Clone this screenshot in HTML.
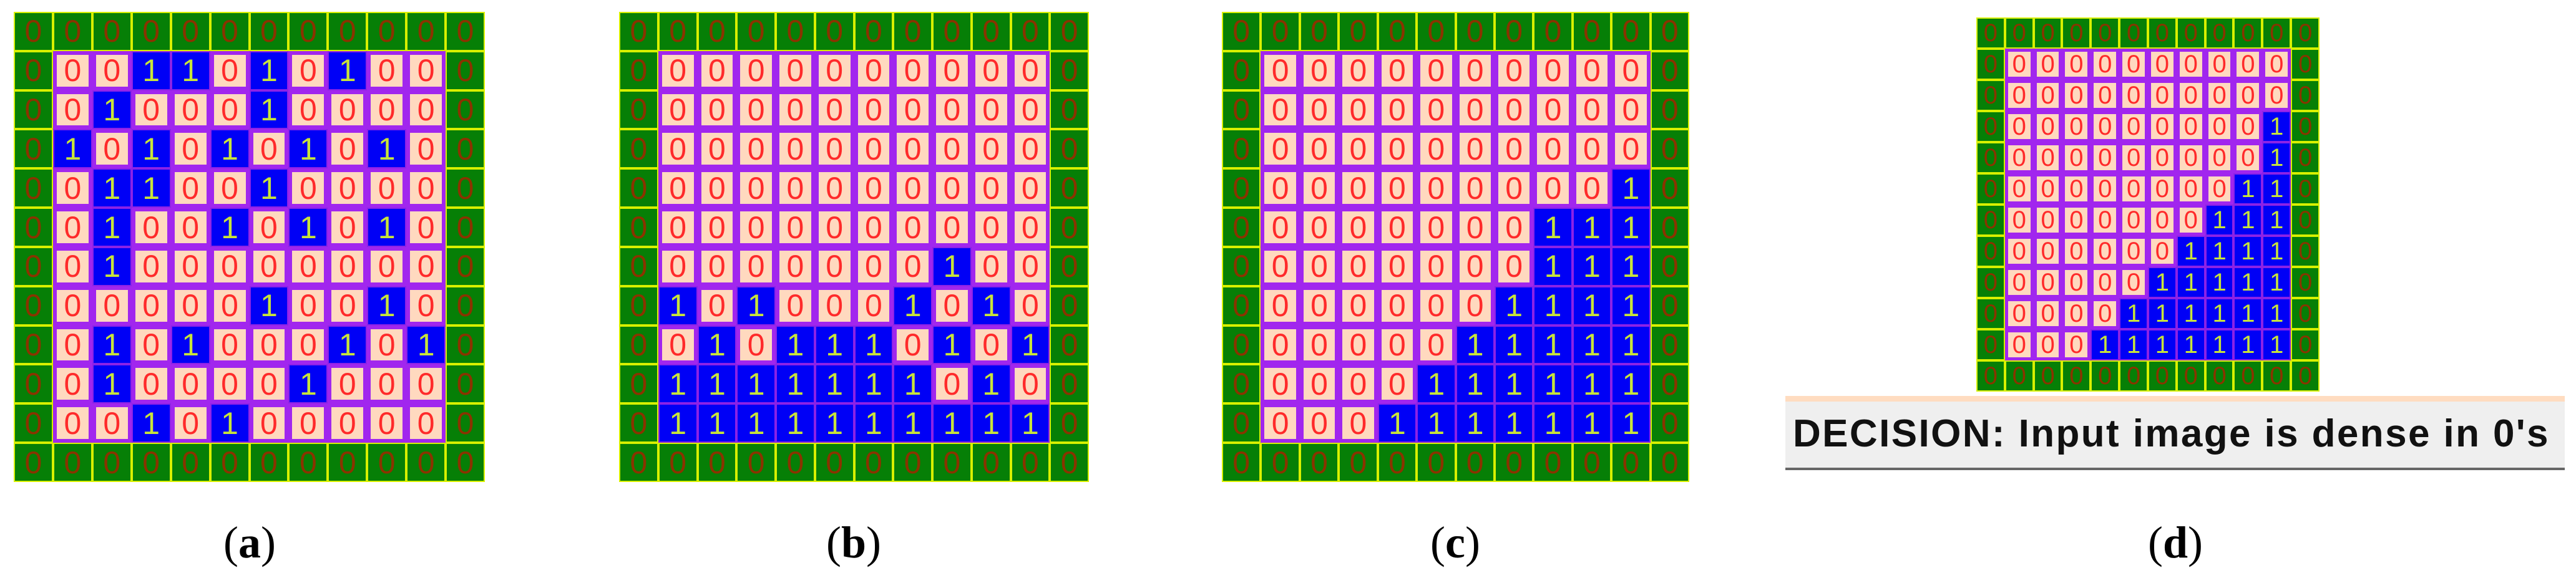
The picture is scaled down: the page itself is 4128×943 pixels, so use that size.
<!DOCTYPE html>
<html><head><meta charset="utf-8">
<style>
html,body{margin:0;padding:0;background:#fff;}
body{width:4128px;height:943px;position:relative;overflow:hidden;}
.p{position:absolute;display:grid;grid-template-columns:repeat(12,1fr);grid-template-rows:repeat(12,1fr);font-family:"Liberation Sans",sans-serif;}
.p u,.p i,.p b{box-sizing:border-box;display:flex;align-items:center;justify-content:center;text-decoration:none;font-style:normal;font-weight:normal;line-height:1;}
.p u{background:#067f06;border:2px solid #d8f000;color:#8a3300;}
.p i{background:#ffd9bf;border:6px solid #a126ee;color:#ff2a2a;}
.p b{background:#0000f6;border:2px solid #8c22e6;color:#c8e43a;}
.big{font-size:50px;}
.sm{font-size:40px;}
.sm i{border-width:5px;}
.lab{position:absolute;top:825px;width:200px;text-align:center;font-family:"Liberation Serif",serif;font-size:72px;line-height:90px;}
.lab b{font-weight:bold;}
.bar{position:absolute;left:2861px;top:635px;width:1249px;height:119px;background:#efefef;border-top:9px solid #ffdcc0;border-bottom:4px solid #666;box-sizing:border-box;font-family:"Liberation Sans","DejaVu Sans",sans-serif;font-weight:bold;font-size:62px;letter-spacing:2.4px;color:#111;line-height:104px;padding-left:12px;white-space:nowrap;}
</style></head><body>

<div class="p big" style="left:22px;top:19px;width:755px;height:754px;">
<u>0</u><u>0</u><u>0</u><u>0</u><u>0</u><u>0</u><u>0</u><u>0</u><u>0</u><u>0</u><u>0</u><u>0</u>
<u>0</u><i>0</i><i>0</i><b>1</b><b>1</b><i>0</i><b>1</b><i>0</i><b>1</b><i>0</i><i>0</i><u>0</u>
<u>0</u><i>0</i><b>1</b><i>0</i><i>0</i><i>0</i><b>1</b><i>0</i><i>0</i><i>0</i><i>0</i><u>0</u>
<u>0</u><b>1</b><i>0</i><b>1</b><i>0</i><b>1</b><i>0</i><b>1</b><i>0</i><b>1</b><i>0</i><u>0</u>
<u>0</u><i>0</i><b>1</b><b>1</b><i>0</i><i>0</i><b>1</b><i>0</i><i>0</i><i>0</i><i>0</i><u>0</u>
<u>0</u><i>0</i><b>1</b><i>0</i><i>0</i><b>1</b><i>0</i><b>1</b><i>0</i><b>1</b><i>0</i><u>0</u>
<u>0</u><i>0</i><b>1</b><i>0</i><i>0</i><i>0</i><i>0</i><i>0</i><i>0</i><i>0</i><i>0</i><u>0</u>
<u>0</u><i>0</i><i>0</i><i>0</i><i>0</i><i>0</i><b>1</b><i>0</i><i>0</i><b>1</b><i>0</i><u>0</u>
<u>0</u><i>0</i><b>1</b><i>0</i><b>1</b><i>0</i><i>0</i><i>0</i><b>1</b><i>0</i><b>1</b><u>0</u>
<u>0</u><i>0</i><b>1</b><i>0</i><i>0</i><i>0</i><i>0</i><b>1</b><i>0</i><i>0</i><i>0</i><u>0</u>
<u>0</u><i>0</i><i>0</i><b>1</b><i>0</i><b>1</b><i>0</i><i>0</i><i>0</i><i>0</i><i>0</i><u>0</u>
<u>0</u><u>0</u><u>0</u><u>0</u><u>0</u><u>0</u><u>0</u><u>0</u><u>0</u><u>0</u><u>0</u><u>0</u>
</div>

<div class="p big" style="left:992px;top:19px;width:753px;height:754px;">
<u>0</u><u>0</u><u>0</u><u>0</u><u>0</u><u>0</u><u>0</u><u>0</u><u>0</u><u>0</u><u>0</u><u>0</u>
<u>0</u><i>0</i><i>0</i><i>0</i><i>0</i><i>0</i><i>0</i><i>0</i><i>0</i><i>0</i><i>0</i><u>0</u>
<u>0</u><i>0</i><i>0</i><i>0</i><i>0</i><i>0</i><i>0</i><i>0</i><i>0</i><i>0</i><i>0</i><u>0</u>
<u>0</u><i>0</i><i>0</i><i>0</i><i>0</i><i>0</i><i>0</i><i>0</i><i>0</i><i>0</i><i>0</i><u>0</u>
<u>0</u><i>0</i><i>0</i><i>0</i><i>0</i><i>0</i><i>0</i><i>0</i><i>0</i><i>0</i><i>0</i><u>0</u>
<u>0</u><i>0</i><i>0</i><i>0</i><i>0</i><i>0</i><i>0</i><i>0</i><i>0</i><i>0</i><i>0</i><u>0</u>
<u>0</u><i>0</i><i>0</i><i>0</i><i>0</i><i>0</i><i>0</i><i>0</i><b>1</b><i>0</i><i>0</i><u>0</u>
<u>0</u><b>1</b><i>0</i><b>1</b><i>0</i><i>0</i><i>0</i><b>1</b><i>0</i><b>1</b><i>0</i><u>0</u>
<u>0</u><i>0</i><b>1</b><i>0</i><b>1</b><b>1</b><b>1</b><i>0</i><b>1</b><i>0</i><b>1</b><u>0</u>
<u>0</u><b>1</b><b>1</b><b>1</b><b>1</b><b>1</b><b>1</b><b>1</b><i>0</i><b>1</b><i>0</i><u>0</u>
<u>0</u><b>1</b><b>1</b><b>1</b><b>1</b><b>1</b><b>1</b><b>1</b><b>1</b><b>1</b><b>1</b><u>0</u>
<u>0</u><u>0</u><u>0</u><u>0</u><u>0</u><u>0</u><u>0</u><u>0</u><u>0</u><u>0</u><u>0</u><u>0</u>
</div>

<div class="p big" style="left:1958px;top:19px;width:749px;height:754px;">
<u>0</u><u>0</u><u>0</u><u>0</u><u>0</u><u>0</u><u>0</u><u>0</u><u>0</u><u>0</u><u>0</u><u>0</u>
<u>0</u><i>0</i><i>0</i><i>0</i><i>0</i><i>0</i><i>0</i><i>0</i><i>0</i><i>0</i><i>0</i><u>0</u>
<u>0</u><i>0</i><i>0</i><i>0</i><i>0</i><i>0</i><i>0</i><i>0</i><i>0</i><i>0</i><i>0</i><u>0</u>
<u>0</u><i>0</i><i>0</i><i>0</i><i>0</i><i>0</i><i>0</i><i>0</i><i>0</i><i>0</i><i>0</i><u>0</u>
<u>0</u><i>0</i><i>0</i><i>0</i><i>0</i><i>0</i><i>0</i><i>0</i><i>0</i><i>0</i><b>1</b><u>0</u>
<u>0</u><i>0</i><i>0</i><i>0</i><i>0</i><i>0</i><i>0</i><i>0</i><b>1</b><b>1</b><b>1</b><u>0</u>
<u>0</u><i>0</i><i>0</i><i>0</i><i>0</i><i>0</i><i>0</i><i>0</i><b>1</b><b>1</b><b>1</b><u>0</u>
<u>0</u><i>0</i><i>0</i><i>0</i><i>0</i><i>0</i><i>0</i><b>1</b><b>1</b><b>1</b><b>1</b><u>0</u>
<u>0</u><i>0</i><i>0</i><i>0</i><i>0</i><i>0</i><b>1</b><b>1</b><b>1</b><b>1</b><b>1</b><u>0</u>
<u>0</u><i>0</i><i>0</i><i>0</i><i>0</i><b>1</b><b>1</b><b>1</b><b>1</b><b>1</b><b>1</b><u>0</u>
<u>0</u><i>0</i><i>0</i><i>0</i><b>1</b><b>1</b><b>1</b><b>1</b><b>1</b><b>1</b><b>1</b><u>0</u>
<u>0</u><u>0</u><u>0</u><u>0</u><u>0</u><u>0</u><u>0</u><u>0</u><u>0</u><u>0</u><u>0</u><u>0</u>
</div>

<div class="p sm" style="left:3167px;top:28px;width:550px;height:600px;">
<u>0</u><u>0</u><u>0</u><u>0</u><u>0</u><u>0</u><u>0</u><u>0</u><u>0</u><u>0</u><u>0</u><u>0</u>
<u>0</u><i>0</i><i>0</i><i>0</i><i>0</i><i>0</i><i>0</i><i>0</i><i>0</i><i>0</i><i>0</i><u>0</u>
<u>0</u><i>0</i><i>0</i><i>0</i><i>0</i><i>0</i><i>0</i><i>0</i><i>0</i><i>0</i><i>0</i><u>0</u>
<u>0</u><i>0</i><i>0</i><i>0</i><i>0</i><i>0</i><i>0</i><i>0</i><i>0</i><i>0</i><b>1</b><u>0</u>
<u>0</u><i>0</i><i>0</i><i>0</i><i>0</i><i>0</i><i>0</i><i>0</i><i>0</i><i>0</i><b>1</b><u>0</u>
<u>0</u><i>0</i><i>0</i><i>0</i><i>0</i><i>0</i><i>0</i><i>0</i><i>0</i><b>1</b><b>1</b><u>0</u>
<u>0</u><i>0</i><i>0</i><i>0</i><i>0</i><i>0</i><i>0</i><i>0</i><b>1</b><b>1</b><b>1</b><u>0</u>
<u>0</u><i>0</i><i>0</i><i>0</i><i>0</i><i>0</i><i>0</i><b>1</b><b>1</b><b>1</b><b>1</b><u>0</u>
<u>0</u><i>0</i><i>0</i><i>0</i><i>0</i><i>0</i><b>1</b><b>1</b><b>1</b><b>1</b><b>1</b><u>0</u>
<u>0</u><i>0</i><i>0</i><i>0</i><i>0</i><b>1</b><b>1</b><b>1</b><b>1</b><b>1</b><b>1</b><u>0</u>
<u>0</u><i>0</i><i>0</i><i>0</i><b>1</b><b>1</b><b>1</b><b>1</b><b>1</b><b>1</b><b>1</b><u>0</u>
<u>0</u><u>0</u><u>0</u><u>0</u><u>0</u><u>0</u><u>0</u><u>0</u><u>0</u><u>0</u><u>0</u><u>0</u>
</div>

<div class="bar">DECISION: Input image is dense in 0's</div>

<div class="lab" style="left:300px;">(<b>a</b>)</div>
<div class="lab" style="left:1268px;">(<b>b</b>)</div>
<div class="lab" style="left:2232px;">(<b>c</b>)</div>
<div class="lab" style="left:3386px;">(<b>d</b>)</div>

</body></html>
